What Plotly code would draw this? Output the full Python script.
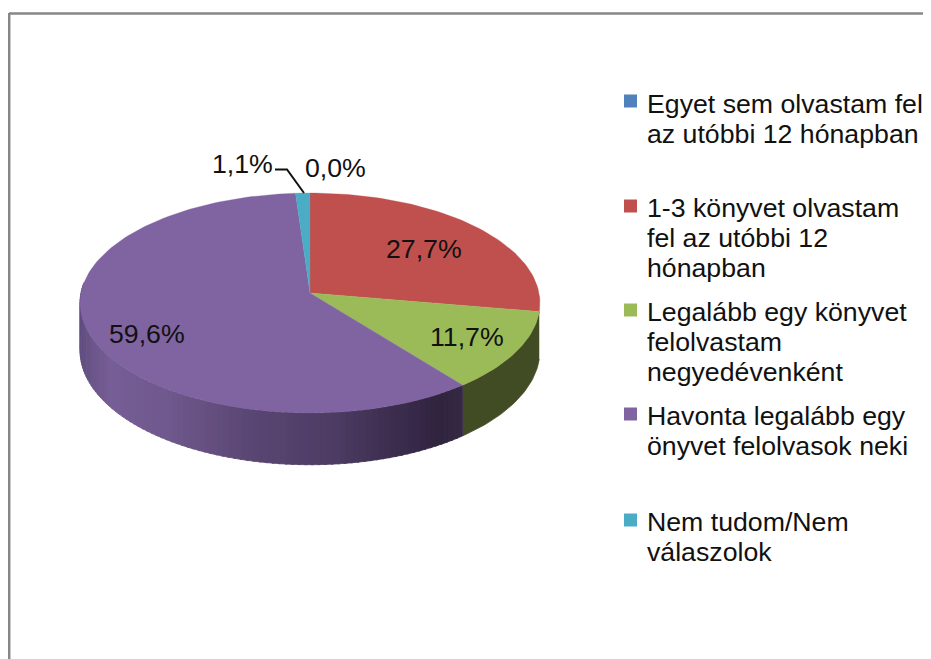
import math
import plotly.graph_objects as go

# ---- data ----
categories = [
    ["Egyet sem olvastam fel", "az utóbbi 12 hónapban"],
    ["1-3 könyvet olvastam", "fel az utóbbi 12", "hónapban"],
    ["Legalább egy könyvet", "felolvastam", "negyedévenként"],
    ["Havonta legalább egy", "önyvet felolvasok neki"],
    ["Nem tudom/Nem", "válaszolok"],
]
values = [0.0, 27.7, 11.7, 59.6, 1.1]
value_labels = ["0,0%", "27,7%", "11,7%", "59,6%", "1,1%"]

# ---- styles / layout ----
colors = ["#4F81BD", "#C0504D", "#9BBB59", "#8064A2", "#4BACC6"]
W, H = 931, 659
PAGE = 8                          # the page's own body margin
CX, CY, A = 310.0, 293.0, 229.0   # projected pie centre and radius
PA, PC = -82.45, 0.0909           # perspective terms
DEPTH = 47.0
FS = 26.7
FONT = "Liberation Sans"
TEXT = "#111111"
label_pos = [(335, 168), (424, 249), (467, 337), (147, 334), (242, 164)]
legend_first_line = [104, 208, 312, 416, 522]
legend_swatch_y = [101, 206, 310, 414, 520]
LINE_STEP = 30
LEG_SW_X, LEG_TX_X = 630.5, 645

# shading of the side wall as (x pixel, colour)
purple_side = [(80, (98, 78, 128)), (110, (118, 94, 150)), (170, (110, 88, 140)),
               (250, (90, 70, 115)), (330, (78, 60, 100)), (400, (58, 44, 76)),
               (440, (48, 36, 62)), (462, (52, 40, 68))]
green_side = "#414B24"


def project(theta_deg, drop=0.0):
    t = math.radians(theta_deg)
    z, x = math.cos(t), math.sin(t)
    w = 1 + PC * z
    return CX + A * x / w, (PA * z + CY) / w + drop / w


def shade(x):
    pts = purple_side
    if x <= pts[0][0]:
        return pts[0][1]
    for (x0, c0), (x1, c1) in zip(pts, pts[1:]):
        if x <= x1:
            f = (x - x0) / (x1 - x0)
            return tuple(c0[i] + f * (c1[i] - c0[i]) for i in range(3))
    return pts[-1][1]


def rgb(c):
    return "rgb(%d,%d,%d)" % tuple(round(v) for v in c)


def wall(fig, a0, a1, color):
    n = max(2, int(abs(a1 - a0)))
    top = [project(a0 + (a1 - a0) * i / n) for i in range(n + 1)]
    bot = [project(a0 + (a1 - a0) * i / n, DEPTH) for i in range(n + 1)]
    pts = top + bot[::-1]
    fig.add_trace(go.Scatter(x=[p[0] for p in pts], y=[p[1] for p in pts], mode="lines",
                             fill="toself", fillcolor=color, line=dict(color=color, width=0.8),
                             hoverinfo="skip", showlegend=False))


fig = go.Figure()

# cumulative angles, clockwise from 12 o'clock
total = sum(values)
starts, ends, acc = [], [], 0.0
for v in values:
    starts.append(acc / total * 360)
    acc += v
    ends.append(acc / total * 360)

# side walls: green, then purple strips up to the left extreme
wall(fig, starts[2], ends[2], green_side)
a = starts[3]
limit = 275.0
step = 1.5
while a < limit:
    b = min(a + step, limit)
    xm = project((a + b) / 2)[0]
    wall(fig, a, b + 0.5, rgb(shade(xm)))
    a = b

# top surface
for v, a0, a1, col in zip(values, starts, ends, colors):
    if v <= 0:
        continue
    n = max(3, int((a1 - a0) / 1.5))
    pts = [(CX, CY)] + [project(a0 + (a1 - a0) * i / n) for i in range(n + 1)] + [(CX, CY)]
    fig.add_trace(go.Scatter(x=[p[0] for p in pts], y=[p[1] for p in pts], mode="lines",
                             fill="toself", fillcolor=col, line=dict(color=col, width=0.3),
                             hoverinfo="skip", showlegend=False))

# leader line of the smallest slice
fig.add_trace(go.Scatter(x=[275, 287, 304], y=[169.5, 169.5, 193], mode="lines",
                         line=dict(color="#111111", width=2), hoverinfo="skip", showlegend=False))

# legend swatches
fig.add_trace(go.Scatter(
    x=[LEG_SW_X] * len(categories), y=legend_swatch_y, mode="markers",
    marker=dict(symbol="square", size=13, color=colors, line=dict(width=0)),
    hoverinfo="skip", showlegend=False))

annotations = []
for (lx, ly), t in zip(label_pos, value_labels):
    annotations.append(dict(x=lx, y=ly, text=t, showarrow=False, xanchor="center", yanchor="middle",
                            font=dict(family=FONT, size=FS, color=TEXT)))
for y0, lines in zip(legend_first_line, categories):
    for i, line in enumerate(lines):
        annotations.append(dict(x=LEG_TX_X, y=y0 + i * LINE_STEP, text=line, showarrow=False,
                                xanchor="left", yanchor="middle", align="left",
                                font=dict(family=FONT, size=FS, color=TEXT)))

frame = dict(color="#878787", width=2.5)
fig.update_layout(
    width=W - PAGE, height=H - PAGE, autosize=False,
    margin=dict(l=0, r=0, t=0, b=0),
    paper_bgcolor="white", plot_bgcolor="white",
    xaxis=dict(range=[PAGE, W], visible=False, fixedrange=True),
    yaxis=dict(range=[H, PAGE], visible=False, fixedrange=True),
    annotations=annotations,
    shapes=[dict(type="line", x0=9, y0=13.5, x1=W, y1=13.5, line=frame),
            dict(type="line", x0=9.2, y0=13, x1=9.2, y1=H, line=frame)],
    showlegend=False,
)
fig.write_html("out.html", config={"displayModeBar": False})
